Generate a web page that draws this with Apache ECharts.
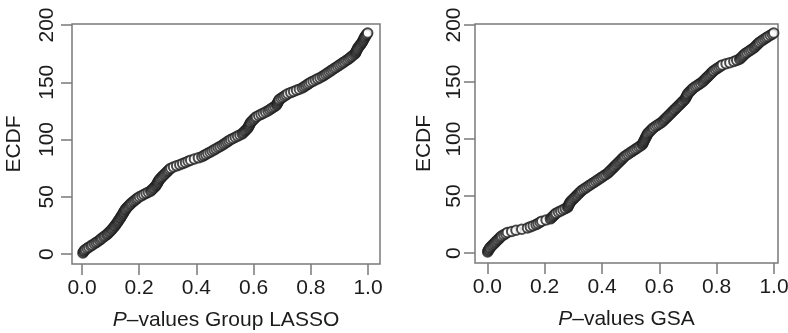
<!DOCTYPE html>
<html>
<head>
<meta charset="utf-8">
<script src="https://cdn.jsdelivr.net/npm/echarts@6/dist/echarts.min.js"></script>
<style>
  html, body { margin: 0; padding: 0; background: #fff; }
  #chart { width: 788px; height: 333px; }
</style>
</head>
<body>
<div id="chart"></div>
<script>
// Sorted p-values from the group LASSO fit
const pGroupLasso = [
  0.003, 0.006, 0.008, 0.012, 0.018, 0.024, 0.031, 0.036, 0.043, 0.049,
  0.055, 0.061, 0.066, 0.070, 0.076, 0.081, 0.087, 0.091, 0.095, 0.099,
  0.103, 0.106, 0.110, 0.113, 0.116, 0.119, 0.122, 0.125, 0.127, 0.130,
  0.133, 0.135, 0.138, 0.140, 0.143, 0.145, 0.147, 0.150, 0.152, 0.155,
  0.159, 0.163, 0.167, 0.171, 0.175, 0.180, 0.185, 0.190, 0.195, 0.201,
  0.209, 0.216, 0.224, 0.232, 0.240, 0.244, 0.248, 0.252, 0.256, 0.259,
  0.262, 0.264, 0.266, 0.268, 0.271, 0.274, 0.278, 0.282, 0.286, 0.290,
  0.294, 0.298, 0.302, 0.306, 0.311, 0.320, 0.331, 0.342, 0.352, 0.362,
  0.371, 0.380, 0.393, 0.407, 0.419, 0.426, 0.433, 0.440, 0.448, 0.455,
  0.462, 0.469, 0.476, 0.483, 0.490, 0.496, 0.502, 0.508, 0.514, 0.520,
  0.528, 0.536, 0.544, 0.552, 0.560, 0.564, 0.568, 0.572, 0.576, 0.580,
  0.582, 0.584, 0.586, 0.588, 0.590, 0.594, 0.598, 0.602, 0.606, 0.610,
  0.618, 0.626, 0.634, 0.642, 0.650, 0.656, 0.662, 0.668, 0.674, 0.680,
  0.682, 0.684, 0.686, 0.688, 0.690, 0.696, 0.702, 0.708, 0.714, 0.720,
  0.730, 0.740, 0.750, 0.760, 0.770, 0.776, 0.782, 0.788, 0.794, 0.800,
  0.808, 0.816, 0.824, 0.832, 0.840, 0.846, 0.852, 0.858, 0.864, 0.870,
  0.876, 0.882, 0.888, 0.894, 0.900, 0.906, 0.912, 0.918, 0.924, 0.930,
  0.935, 0.940, 0.945, 0.950, 0.955, 0.957, 0.959, 0.961, 0.963, 0.965,
  0.968, 0.971, 0.974, 0.977, 0.980, 0.982, 0.984, 0.986, 0.988, 0.990,
  0.993, 0.996, 0.999
];

// Sorted p-values from the GSA analysis
const pGSA = [
  0.001, 0.003, 0.005, 0.008, 0.010, 0.014, 0.018, 0.022, 0.026, 0.030,
  0.034, 0.038, 0.042, 0.046, 0.050, 0.057, 0.064, 0.070, 0.085, 0.100,
  0.120, 0.140, 0.150, 0.160, 0.170, 0.177, 0.184, 0.190, 0.205, 0.220,
  0.224, 0.228, 0.232, 0.236, 0.240, 0.248, 0.256, 0.264, 0.272, 0.280,
  0.282, 0.284, 0.286, 0.288, 0.290, 0.294, 0.298, 0.302, 0.306, 0.310,
  0.314, 0.318, 0.322, 0.326, 0.330, 0.336, 0.342, 0.348, 0.354, 0.360,
  0.366, 0.372, 0.378, 0.384, 0.390, 0.396, 0.402, 0.408, 0.414, 0.420,
  0.424, 0.428, 0.432, 0.436, 0.440, 0.444, 0.448, 0.452, 0.456, 0.460,
  0.464, 0.468, 0.472, 0.476, 0.480, 0.486, 0.492, 0.498, 0.504, 0.510,
  0.516, 0.522, 0.528, 0.534, 0.540, 0.542, 0.544, 0.546, 0.548, 0.550,
  0.552, 0.554, 0.556, 0.558, 0.560, 0.564, 0.568, 0.572, 0.576, 0.580,
  0.586, 0.592, 0.598, 0.604, 0.610, 0.614, 0.618, 0.622, 0.626, 0.630,
  0.634, 0.638, 0.642, 0.646, 0.650, 0.654, 0.658, 0.662, 0.666, 0.670,
  0.674, 0.678, 0.682, 0.686, 0.690, 0.692, 0.694, 0.696, 0.698, 0.700,
  0.704, 0.708, 0.712, 0.716, 0.720, 0.726, 0.732, 0.738, 0.744, 0.750,
  0.754, 0.758, 0.762, 0.766, 0.770, 0.774, 0.778, 0.782, 0.786, 0.790,
  0.796, 0.802, 0.808, 0.814, 0.820, 0.833, 0.846, 0.860, 0.870, 0.880,
  0.884, 0.888, 0.892, 0.896, 0.900, 0.906, 0.912, 0.918, 0.924, 0.930,
  0.934, 0.938, 0.942, 0.946, 0.950, 0.956, 0.962, 0.968, 0.974, 0.980,
  0.987, 0.994, 0.999
];

const xTicks = [0, 0.2, 0.4, 0.6, 0.8, 1.0];
const yTicks = [0, 50, 100, 150, 200];
const xTitles = ['Group LASSO', 'GSA'];
const yTitle = 'ECDF';

// Empirical CDF as cumulative counts: point i sits at (p_(i), i)
function ecdfPoints(sorted) {
  return sorted.map((p, i) => [p, i + 1]);
}

const FONT = 'Liberation Sans, Arial, Helvetica, sans-serif';
const TEXT = '#1c1c1c';
const FRAME = '#7a7a7a';

function xAxisFor(gridIndex, title, min, max) {
  return {
    type: 'value', gridIndex, min, max,
    splitLine: { show: false },
    axisLine: { show: false, onZero: false },
    axisTick: { show: true, length: 11, customValues: xTicks,
      lineStyle: { color: FRAME, width: 1.5 } },
    axisLabel: { show: true, margin: 14, customValues: xTicks,
      formatter: v => v.toFixed(1),
      fontFamily: FONT, fontSize: 21, color: TEXT },
    name: '{i|P}–values ' + title,
    nameLocation: 'middle', nameGap: 46,
    nameTextStyle: {
      fontFamily: FONT, fontSize: 21, color: TEXT,
      rich: { i: { fontStyle: 'italic', fontFamily: FONT, fontSize: 21, color: TEXT } }
    }
  };
}

function yAxisFor(gridIndex, labelMargin, nameGap) {
  return {
    type: 'value', gridIndex, min: -8.7, max: 200.9,
    splitLine: { show: false },
    axisLine: { show: false, onZero: false },
    axisTick: { show: true, length: 11, customValues: yTicks,
      lineStyle: { color: FRAME, width: 1.5 } },
    axisLabel: { show: true, rotate: 90, margin: labelMargin, customValues: yTicks,
      fontFamily: FONT, fontSize: 21, color: TEXT },
    name: yTitle, nameLocation: 'middle', nameGap,
    nameRotate: 90,
    nameTextStyle: { fontFamily: FONT, fontSize: 21, color: TEXT }
  };
}

// Open circles, heavily overplotted along the curve
function scatterFor(index, data) {
  return {
    type: 'scatter', xAxisIndex: index, yAxisIndex: index,
    data: ecdfPoints(data),
    symbol: 'emptyCircle', symbolSize: 9.5,
    itemStyle: { color: '#1e1e1e', borderWidth: 1.9 },
    emphasis: { disabled: true },
    animation: false
  };
}

const chart = echarts.init(document.getElementById('chart'));
chart.setOption({
  backgroundColor: '#fff',
  animation: false,
  grid: [
    { left: 72, top: 24, width: 308, height: 240, show: true, outerBoundsMode: 'none',
      borderColor: FRAME, borderWidth: 1.5 },
    { left: 475, top: 24, width: 303, height: 239, show: true, outerBoundsMode: 'none',
      borderColor: FRAME, borderWidth: 1.5 }
  ],
  xAxis: [
    xAxisFor(0, xTitles[0], -0.035, 1.042),
    xAxisFor(1, xTitles[1], -0.043, 1.014)
  ],
  yAxis: [
    yAxisFor(0, 14, 47),
    yAxisFor(1, 10, 40)
  ],
  series: [
    scatterFor(0, pGroupLasso),
    scatterFor(1, pGSA)
  ]
});
</script>
</body>
</html>
